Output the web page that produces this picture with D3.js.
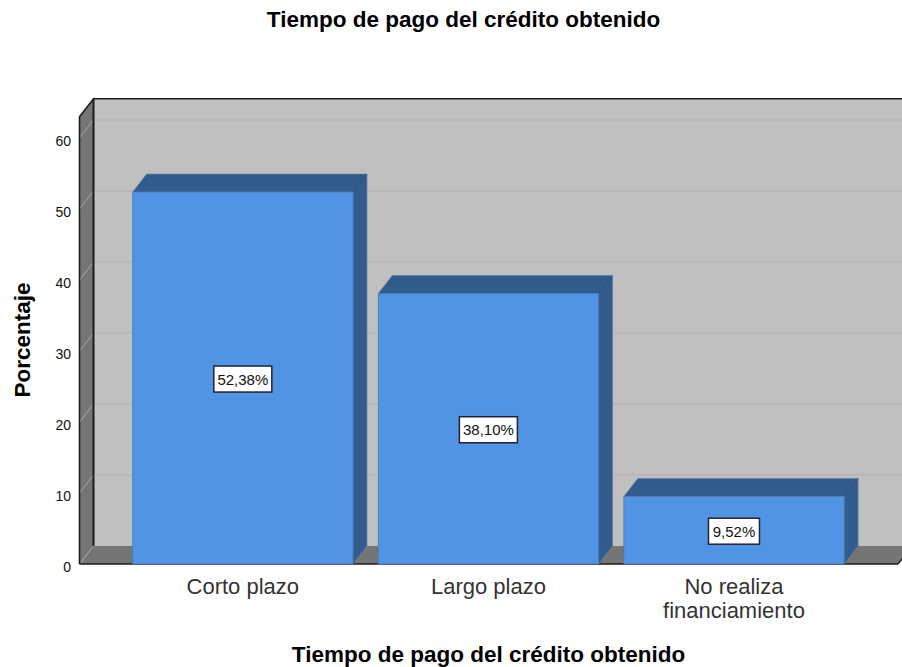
<!DOCTYPE html>
<html>
<head>
<meta charset="utf-8">
<script src="https://cdn.jsdelivr.net/npm/d3@7"></script>
<style>
  html, body { margin: 0; padding: 0; background: #fff; overflow: hidden; }
  svg { display: block; }
  text { font-family: "Liberation Sans", Arial, sans-serif; fill: #111; }
</style>
</head>
<body>
<svg width="902" height="667"></svg>
<script>
var categories = ["Corto plazo", "Largo plazo", "No realiza financiamiento"];
var values = [52.38, 38.10, 9.52];
var valueLabels = ["52,38%", "38,10%", "9,52%"];
var yTicks = [0, 10, 20, 30, 40, 50, 60];
var chartTitle = "Tiempo de pago del crédito obtenido";
var yTitle = "Porcentaje";

var svg = d3.select("svg");

var depthX = 14, depthY = 18;
var left = 79.5, right = 898, yMax = 63;

var x = d3.scaleBand()
    .domain(categories)
    .range([120.4, 856.4])
    .paddingInner(0.103)
    .paddingOuter(0.05);

var y = d3.scaleLinear()
    .domain([0, 60])
    .range([564, 138]);

function poly(pts) {
  return "M" + pts.map(function(p) { return p.join(","); }).join("L") + "Z";
}

// back wall, side wall, floor
svg.append("path")
    .attr("fill", "#c0c0c0")
    .attr("d", poly([[left + depthX, y(yMax) - depthY], [right + depthX, y(yMax) - depthY], [right + depthX, y(0) - depthY], [left + depthX, y(0) - depthY]]));
svg.append("path")
    .attr("fill", "#757575")
    .attr("d", poly([[left, y(yMax)], [left + depthX, y(yMax) - depthY], [left + depthX, y(0) - depthY], [left, y(0)]]));
svg.append("path")
    .attr("fill", "#757575")
    .attr("d", poly([[left, y(0)], [left + depthX, y(0) - depthY], [right + depthX, y(0) - depthY], [right, y(0)]]));

// gridlines
var grid = svg.append("g");
yTicks.concat([yMax]).forEach(function(t) {
  if (t != 0 && t != yMax) {
    grid.append("line")
        .attr("x1", left + depthX).attr("x2", right + depthX)
        .attr("y1", y(t) - depthY).attr("y2", y(t) - depthY)
        .attr("stroke", "#b0b0b0");
  }
  if (t != yMax) {
    grid.append("line")
        .attr("x1", left).attr("x2", left + depthX)
        .attr("y1", y(t)).attr("y2", y(t) - depthY)
        .attr("stroke", "#a9a9a9");
  }
});

// frame
var frame = svg.append("g").attr("fill", "none").attr("stroke", "#1c1c1c");
frame.append("path")
    .attr("stroke-width", 1.6)
    .attr("d", "M" + left + "," + y(0) + "L" + left + "," + y(yMax) + "L" + (left + depthX) + "," + (y(yMax) - depthY) + "L" + (right + depthX) + "," + (y(yMax) - depthY));
frame.append("line")
    .attr("stroke-width", 2)
    .attr("x1", left + depthX).attr("x2", left + depthX)
    .attr("y1", y(yMax) - depthY).attr("y2", y(0) - depthY);
frame.append("line")
    .attr("stroke-width", 1.6)
    .attr("x1", left).attr("x2", right)
    .attr("y1", y(0)).attr("y2", y(0));
frame.append("line")
    .attr("stroke-width", 1.4)
    .attr("x1", right).attr("x2", right + depthX)
    .attr("y1", y(0)).attr("y2", y(0) - depthY);

// bars
var bars = svg.selectAll(".bar")
    .data(categories)
    .enter().append("g")
    .attr("class", "bar");

bars.append("path")
    .attr("fill", "#335c8e")
    .attr("stroke", "#5f7c9f")
    .attr("stroke-width", 0.7)
    .attr("d", function(d, i) {
      var x0 = x(d), x1 = x0 + x.bandwidth(), yt = y(values[i]);
      return poly([[x0, yt], [x0 + depthX, yt - depthY], [x1 + depthX, yt - depthY], [x1 + depthX, y(0) - depthY], [x1, y(0)], [x1, yt]]);
    });
bars.append("path")
    .attr("fill", "none")
    .attr("stroke", "#2a4c76")
    .attr("stroke-width", 0.7)
    .attr("d", function(d, i) {
      var x1 = x(d) + x.bandwidth(), yt = y(values[i]);
      return "M" + x1 + "," + yt + "L" + (x1 + depthX) + "," + (yt - depthY);
    });
bars.append("rect")
    .attr("fill", "#5294e4")
    .attr("stroke", "#4678b4")
    .attr("stroke-width", 0.7)
    .attr("x", function(d) { return x(d); })
    .attr("y", function(d, i) { return y(values[i]); })
    .attr("width", x.bandwidth())
    .attr("height", function(d, i) { return y(0) - y(values[i]); });

// value labels
var labels = svg.selectAll(".value-label")
    .data(categories)
    .enter().append("g")
    .attr("class", "value-label")
    .attr("transform", function(d, i) {
      return "translate(" + (x(d) + x.bandwidth() / 2) + "," + (y(values[i] / 2) + 1) + ")";
    });
labels.append("rect")
    .attr("x", function(d, i) { return i == 2 ? -25.5 : -29; })
    .attr("y", -13)
    .attr("width", function(d, i) { return i == 2 ? 51 : 58; })
    .attr("height", 26)
    .attr("fill", "#fff")
    .attr("stroke", "#223")
    .attr("stroke-width", 1.5);
labels.append("text")
    .attr("text-anchor", "middle")
    .attr("y", 5.5)
    .attr("font-size", 15)
    .text(function(d, i) { return valueLabels[i]; });

// y axis
var yAxis = svg.append("g")
    .attr("transform", "translate(" + left + ",0)")
    .call(d3.axisLeft(y).tickValues(yTicks).tickSize(0).tickPadding(8.5));
yAxis.select(".domain").remove();
yAxis.selectAll("text")
    .attr("dy", "0.5em")
    .style("font-size", "14px")
    .style("font-family", "\"Liberation Sans\", Arial, sans-serif")
    .style("fill", "#111");

// x axis labels, the long one broken over two lines
var xLabels = svg.selectAll(".x-label")
    .data(categories)
    .enter().append("text")
    .attr("class", "x-label")
    .attr("text-anchor", "middle")
    .attr("font-size", 22)
    .style("fill", "#333");
xLabels.each(function(d) {
  var words = d == "No realiza financiamiento" ? ["No realiza", "financiamiento"] : [d];
  var t = d3.select(this);
  words.forEach(function(w, j) {
    t.append("tspan")
        .attr("x", x(d) + x.bandwidth() / 2)
        .attr("y", 594 + j * 24)
        .text(w);
  });
});

// titles
svg.append("text")
    .attr("x", 463.5).attr("y", 27)
    .attr("text-anchor", "middle")
    .attr("font-size", 22.5)
    .attr("font-weight", "bold")
    .style("fill", "#000")
    .text(chartTitle);
svg.append("text")
    .attr("x", 488.5).attr("y", 662)
    .attr("text-anchor", "middle")
    .attr("font-size", 22.5)
    .attr("font-weight", "bold")
    .style("fill", "#000")
    .text(chartTitle);
svg.append("text")
    .attr("transform", "translate(30,340) rotate(-90)")
    .attr("text-anchor", "middle")
    .attr("font-size", 22.5)
    .attr("font-weight", "bold")
    .style("fill", "#000")
    .text(yTitle);
</script>
</body>
</html>
